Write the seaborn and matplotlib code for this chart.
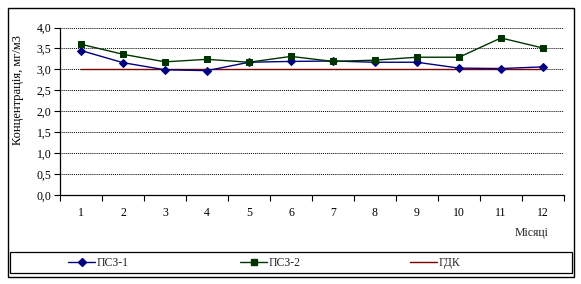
import matplotlib
matplotlib.use("Agg")
import matplotlib.pyplot as plt
import seaborn as sns
import pandas as pd
from matplotlib.patches import Rectangle
from matplotlib.lines import Line2D
from matplotlib.ticker import FuncFormatter, MultipleLocator, FixedLocator

months = [1, 2, 3, 4, 5, 6, 7, 8, 9, 10, 11, 12]
psz1 = [3.45, 3.16, 2.99, 2.97, 3.17, 3.19, 3.20, 3.17, 3.17, 3.03, 3.02, 3.06]
psz2 = [3.60, 3.36, 3.18, 3.24, 3.17, 3.31, 3.19, 3.22, 3.29, 3.29, 3.75, 3.51]
gdk = [3.0] * 12
series_names = ["ПСЗ-1", "ПСЗ-2", "ГДК"]
y_label = "Концентрація, мг/м3"
x_label = "Місяці"

sns.set_theme(style="white")
plt.rcParams["font.family"] = ["Liberation Serif", "DejaVu Serif"]
FS = 8.5

fig = plt.figure(figsize=(5.81, 2.84), dpi=100)
ax = fig.add_axes([60/581, 1-195/284, 504/581, (195-27.5)/284])

df = pd.DataFrame({"m": months, "p1": psz1, "p2": psz2, "g": gdk})
sns.lineplot(data=df, x="m", y="p1", ax=ax, color="#000080", marker="D",
             markersize=3.6, markeredgecolor="#000080", linewidth=1.0, zorder=4)
sns.lineplot(data=df, x="m", y="p2", ax=ax, color="#003300", marker="s",
             markersize=4.5, markeredgecolor="#003300", linewidth=1.0, zorder=4)
sns.lineplot(data=df, x="m", y="g", ax=ax, color="#800000", linewidth=1.0, zorder=3)

ax.set_xlim(0.5, 12.5)
ax.set_ylim(0, 4.0)
ax.yaxis.set_major_locator(MultipleLocator(0.5))
ax.yaxis.set_major_formatter(FuncFormatter(lambda v, p: f"{v:.1f}".replace(".", ",")))
ax.xaxis.set_major_locator(FixedLocator(months))
ax.xaxis.set_minor_locator(FixedLocator([m + 0.5 for m in [0] + months]))
ax.tick_params(axis="x", which="major", length=0, pad=9, labelsize=FS)
ax.tick_params(axis="x", which="minor", length=4, width=0.8, direction="out", color="black", bottom=True)
ax.tick_params(axis="y", which="major", length=4, width=0.8, direction="out", color="black", left=True, labelsize=FS, pad=2)
for t in ax.get_xticklabels() + ax.get_yticklabels():
    t.set_color("black")

ax.grid(axis="y", color="black", linestyle=(0, (1, 1)), linewidth=0.7)
ax.set_axisbelow(True)
for s in ["top", "right"]:
    ax.spines[s].set_visible(False)
for s in ["left", "bottom"]:
    ax.spines[s].set_color("black")
    ax.spines[s].set_linewidth(0.9)

ax.set_xlabel("")
ax.set_ylabel(y_label, fontsize=9, color="black")
ax.yaxis.set_label_coords(-0.072, 0.627)
fig.text(548/581, 1-233/284, x_label, fontsize=FS, ha="right", va="center")

# outer frame
fig.patches.append(Rectangle((8/581, 1-277/284), 566/581, 269/284, transform=fig.transFigure,
                             fill=False, edgecolor="black", linewidth=1.0))
# legend box
fig.patches.append(Rectangle((10/581, 1-273/284), 562/581, 21/284, transform=fig.transFigure,
                             fill=False, edgecolor="black", linewidth=0.9))

handles = [
    Line2D([], [], color="#000080", marker="D", markersize=3.6, linewidth=1.0),
    Line2D([], [], color="#003300", marker="s", markersize=4.5, linewidth=1.0),
    Line2D([], [], color="#800000", linewidth=1.0),
]
xs = [68, 240, 410]
for h, name, x in zip(handles, series_names, xs):
    fig.legend([h], [name], loc="center left", bbox_to_anchor=(x/581, 1-263/284),
               frameon=False, fontsize=FS, handlelength=2.3, handletextpad=0.1,
               borderpad=0, borderaxespad=0)

fig.savefig("out.png", dpi=100)
